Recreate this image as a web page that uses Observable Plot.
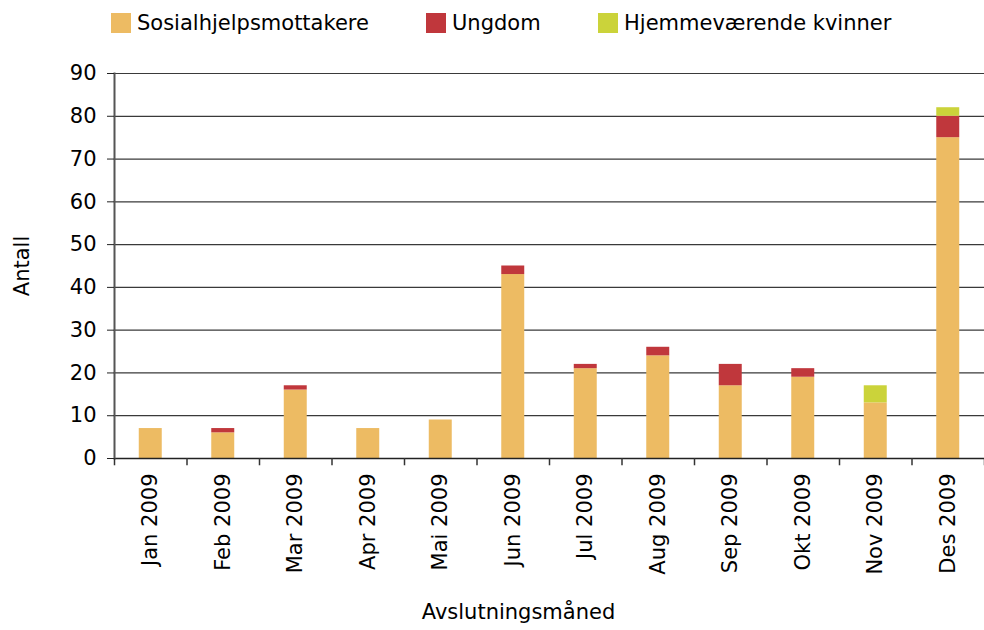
<!DOCTYPE html>
<html><head><meta charset="utf-8">
<script src="https://cdn.jsdelivr.net/npm/d3@7"></script>
<script src="https://cdn.jsdelivr.net/npm/@observablehq/plot@0.6"></script>
<style>
body{margin:0;background:#fff;font-family:"DejaVu Sans",Verdana,sans-serif;}
#legend{height:45px;position:relative;font-size:21px;color:#000;}
.item{position:absolute;top:11px;display:flex;align-items:center;}
.sw{width:20px;height:20px;margin-right:6px;}
</style></head><body>
<div id="legend"></div>
<div id="chart"></div>
<script>
const months = ["Jan 2009","Feb 2009","Mar 2009","Apr 2009","Mai 2009","Jun 2009","Jul 2009","Aug 2009","Sep 2009","Okt 2009","Nov 2009","Des 2009"];
const series = ["Sosialhjelpsmottakere","Ungdom","Hjemmeværende kvinner"];
const colors = ["#EDBB63","#C0373C","#CBD33A"];
const sosial = [7,6,16,7,9,43,21,24,17,19,13,75];
const ungdom = [0,1,1,0,0,2,1,2,5,2,0,5];
const hjemme = [0,0,0,0,0,0,0,0,0,0,4,2];
const yTicks = [0,10,20,30,40,50,60,70,80,90];
const xTitle = "Avslutningsmåned";
const yTitle = "Antall";

const data = [];
months.forEach((m,i)=>{
  data.push({month:m, series:series[0], value:sosial[i]});
  data.push({month:m, series:series[1], value:ungdom[i]});
  data.push({month:m, series:series[2], value:hjemme[i]});
});

const legendX = [111, 426, 598];
const lg = document.getElementById("legend");
series.forEach((s,i)=>{
  const d = document.createElement("div");
  d.className="item"; d.style.left=legendX[i]+"px";
  d.innerHTML = `<div class="sw" style="background:${colors[i]}"></div><span>${s}</span>`;
  lg.appendChild(d);
});

const W = 984, H = 585, mL = 114, mR = 0;
const step = (W - mL - mR) / months.length;

const chart = Plot.plot({
  width: W, height: H,
  marginLeft: mL, marginRight: mR, marginTop: 28, marginBottom: 172,
  style: {fontFamily: '"DejaVu Sans", Verdana, sans-serif', fontSize: "21px", color: "#000", background: "#fff", overflow: "visible"},
  x: {domain: months, padding: 0.683, paddingOuter: 0.3415, align: 0.5, round: false},
  y: {domain: [0, 90]},
  color: {domain: series, range: colors},
  marks: [
    Plot.gridY(yTicks, {stroke: "#3a3a3a", strokeOpacity: 1, strokeWidth: 1.2}),
    Plot.barY(data, {x: "month", y: "value", fill: "series", order: series}),
    Plot.ruleY([0], {stroke: "#222", strokeWidth: 1.5}),
    Plot.frame({anchor: "left", stroke: "#555", strokeWidth: 2}),
    Plot.axisY(yTicks, {tickSize: 7, tickPadding: 11, label: yTitle, labelArrow: "none", labelAnchor: "center", labelOffset: 100, stroke: "#222"}),
    Plot.axisX({tickSize: 0, tickRotate: -90, tickPadding: 15, label: null}),
    Plot.text([xTitle], {frameAnchor: "bottom", dx: -31, dy: 154, lineAnchor: "middle", fontSize: 21, fill: "#000"}),
    Plot.ruleX(months, {x: d => d, dx: -step/2, y1: 0, y2: -1.7, stroke: "#333", strokeWidth: 1.5}),
    Plot.ruleX([months[months.length-1]], {x: d => d, dx: step/2, y1: 0, y2: -1.7, stroke: "#333", strokeWidth: 1.5})
  ]
});
document.getElementById("chart").appendChild(chart);
</script>
</body></html>
